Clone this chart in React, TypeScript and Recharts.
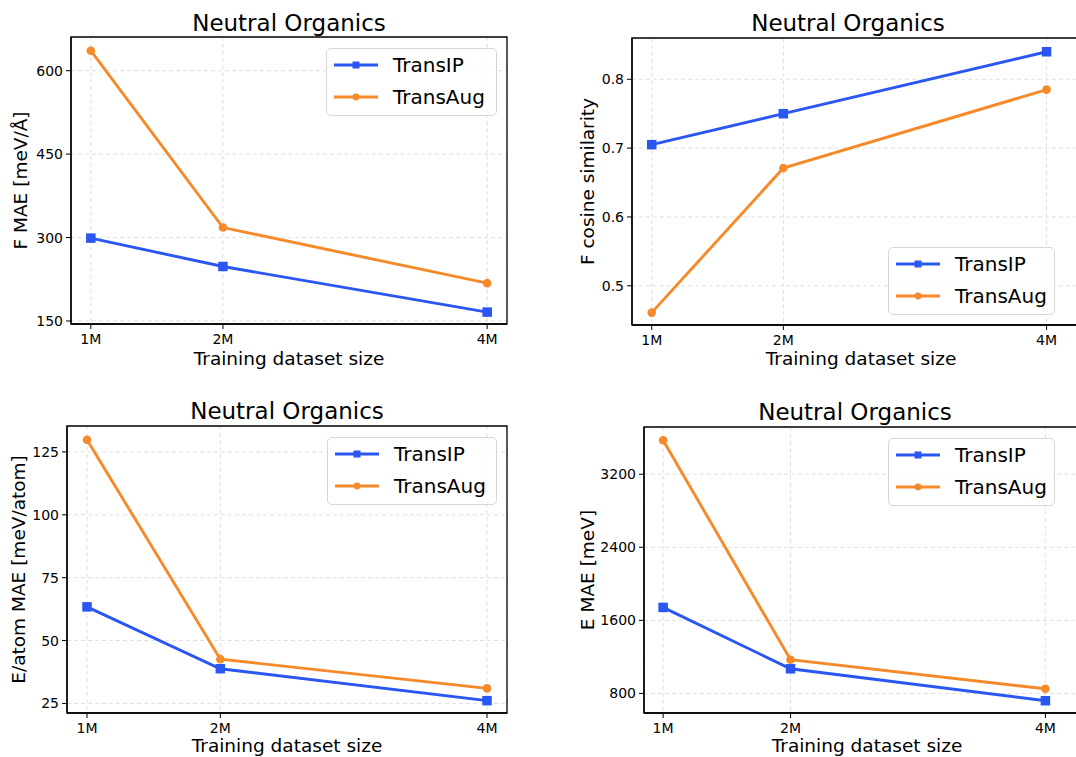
import { CartesianGrid, Legend, Line, LineChart, ReferenceArea, XAxis, YAxis } from "recharts"

const sizes = [1, 2, 4]
const sizeLabels = ["1M", "2M", "4M"]
const seriesOrder = ["transIP", "transAug"]

// F MAE [meV/Å]
const fMaeTransIP = [299, 248, 166]
const fMaeTransAug = [636, 318, 218]
const fMaeTicks = [150, 300, 450, 600]

// F cosine similarity
const fCosTransIP = [0.705, 0.75, 0.84]
const fCosTransAug = [0.461, 0.671, 0.785]
const fCosTicks = [0.5, 0.6, 0.7, 0.8]

// E/atom MAE [meV/atom]
const eAtomTransIP = [63.4, 38.8, 26.1]
const eAtomTransAug = [129.8, 42.6, 31.0]
const eAtomTicks = [25, 50, 75, 100, 125]

// E MAE [meV]
const eMaeTransIP = [1742, 1070, 720]
const eMaeTransAug = [3572, 1169, 851]
const eMaeTicks = [800, 1600, 2400, 3200]

const BLUE = "#2a56f2"
const ORANGE = "#f58a2a"
const FONT = "'DejaVu Sans', sans-serif"

function buildRows(ip: number[], aug: number[]) {
  return sizes.map((size, i) => ({ size, transIP: ip[i], transAug: aug[i] }))
}

const formatSize = (v: number) => sizeLabels[sizes.indexOf(v)] ?? ""

const SquareDot = (props: any) => {
  const { cx, cy, index } = props
  if (cx == null || cy == null) return null
  return <rect key={`sq-${index}`} x={cx - 4.75} y={cy - 4.75} width={9.5} height={9.5} fill={BLUE} />
}

function LegendBox({ payload, boxWidth }: any) {
  const items = [...(payload ?? [])].sort(
    (a: any, b: any) => seriesOrder.indexOf(a.dataKey) - seriesOrder.indexOf(b.dataKey)
  )
  return (
    <div
      style={{
        width: boxWidth,
        height: 68,
        boxSizing: "border-box",
        border: "1px solid #d6d6d6",
        borderRadius: 5,
        background: "rgba(255,255,255,0.8)",
        fontFamily: FONT,
      }}
    >
      {items.map((entry: any) => (
        <div key={entry.value} style={{ display: "flex", alignItems: "center", height: 32 }}>
          <svg width={44} height={12} style={{ marginLeft: 7 }}>
            <line x1={0} y1={6} x2={44} y2={6} stroke={entry.color} strokeWidth={2.8} />
            {entry.dataKey === "transIP" ? (
              <rect x={18.5} y={2.5} width={7} height={7} fill={entry.color} />
            ) : (
              <circle cx={22} cy={6} r={3.4} fill={entry.color} />
            )}
          </svg>
          <span style={{ marginLeft: 15, fontSize: 20, lineHeight: "32px", color: "#000" }}>{entry.value}</span>
        </div>
      ))}
    </div>
  )
}

const YTitle = ({ viewBox, text, cx }: any) => {
  const tx = viewBox.x + cx
  const ty = viewBox.y + viewBox.height / 2
  return (
    <text
      x={tx}
      y={ty}
      dy="0.36em"
      transform={`rotate(-90, ${tx}, ${ty})`}
      textAnchor="middle"
      fontSize={18.5}
      fontFamily={FONT}
      fill="#000"
    >
      {text}
    </text>
  )
}

type PanelProps = {
  left: number
  top: number
  width: number
  height: number
  margin: { top: number; right: number }
  yWidth: number
  xHeight: number
  xDomain: [number, number]
  yDomain: [number, number]
  yTicks: number[]
  yLabel: string
  yLabelX: number
  xLabelOffset: number
  ip: number[]
  aug: number[]
  title: { cx: number; top: number }
  legend: { left: number; top: number; width: number }
}

function Panel(p: PanelProps) {
  const rows = buildRows(p.ip, p.aug)
  const axisLine = { stroke: "#000", strokeWidth: 1.3 }
  return (
    <div style={{ position: "absolute", left: p.left, top: p.top, width: p.width, height: p.height }}>
      <div
        style={{
          position: "absolute",
          left: p.title.cx - 150,
          top: p.title.top,
          width: 300,
          textAlign: "center",
          fontFamily: FONT,
          fontSize: 23,
          lineHeight: "23px",
          color: "#000",
          zIndex: 2,
        }}
      >
        Neutral Organics
      </div>
      <LineChart
        width={p.width}
        height={p.height}
        data={rows}
        margin={{ top: p.margin.top, right: p.margin.right, bottom: 0, left: 0 }}
      >
        <CartesianGrid stroke="#dcdcdc" strokeDasharray="4 3" strokeWidth={0.9} />
        {/* plot frame (top and right spines) */}
        <ReferenceArea
          x1={p.xDomain[0]}
          x2={p.xDomain[1]}
          y1={p.yDomain[0]}
          y2={p.yDomain[1]}
          fill="none"
          stroke="#000"
          strokeWidth={1.3}
          ifOverflow="visible"
        />
        <XAxis
          dataKey="size"
          type="number"
          domain={p.xDomain}
          allowDataOverflow
          ticks={sizes}
          tickFormatter={formatSize}
          height={p.xHeight}
          axisLine={axisLine}
          tickLine={{ stroke: "#000" }}
          tickSize={5}
          tickMargin={5}
          tick={{ fontSize: 14, fill: "#000", fontFamily: FONT }}
          label={{
            value: "Training dataset size",
            position: "insideBottom",
            offset: p.xLabelOffset,
            fontSize: 18.5,
            fill: "#000",
            fontFamily: FONT,
          }}
        />
        <YAxis
          type="number"
          domain={p.yDomain}
          allowDataOverflow
          ticks={p.yTicks}
          width={p.yWidth}
          axisLine={axisLine}
          tickLine={{ stroke: "#000" }}
          tickSize={5}
          tickMargin={3}
          tick={{ fontSize: 14, fill: "#000", fontFamily: FONT }}
          label={{ content: (lp: any) => <YTitle {...lp} text={p.yLabel} cx={p.yLabelX} /> }}
        />
        <Legend
          layout="horizontal"
          verticalAlign="middle"
          wrapperStyle={{ left: p.legend.left, top: p.legend.top, width: "auto" }}
          content={(lp: any) => <LegendBox payload={lp.payload} boxWidth={p.legend.width} />}
        />
        <Line
          type="linear"
          dataKey="transIP"
          name="TransIP"
          stroke={BLUE}
          strokeWidth={2.9}
          dot={SquareDot}
          activeDot={false}
          isAnimationActive={false}
        />
        <Line
          type="linear"
          dataKey="transAug"
          name="TransAug"
          stroke={ORANGE}
          strokeWidth={2.9}
          dot={{ r: 4.3, fill: ORANGE, stroke: ORANGE, strokeWidth: 0 }}
          activeDot={false}
          isAnimationActive={false}
        />
      </LineChart>
    </div>
  )
}

export default function App() {
  return (
    <div
      style={{
        position: "absolute",
        left: 0,
        top: 0,
        width: 1076,
        height: 757,
        overflow: "hidden",
        background: "#fff",
      }}
    >
      <Panel
        left={0}
        top={0}
        width={530}
        height={380}
        margin={{ top: 37, right: 23 }}
        yWidth={71}
        xHeight={56}
        xDomain={[0.85, 4.15]}
        yDomain={[144.6, 660.6]}
        yTicks={fMaeTicks}
        yLabel="F MAE [meV/Å]"
        yLabelX={20}
        xLabelOffset={15}
        ip={fMaeTransIP}
        aug={fMaeTransAug}
        title={{ cx: 289, top: 12 }}
        legend={{ left: 326, top: 48, width: 171 }}
      />
      <Panel
        left={540}
        top={0}
        width={560}
        height={380}
        margin={{ top: 38, right: 10 }}
        yWidth={92}
        xHeight={55}
        xDomain={[0.85, 4.33]}
        yDomain={[0.443, 0.86]}
        yTicks={fCosTicks}
        yLabel="F cosine similarity"
        yLabelX={47}
        xLabelOffset={15}
        ip={fCosTransIP}
        aug={fCosTransAug}
        title={{ cx: 308, top: 12 }}
        legend={{ left: 348, top: 247, width: 167 }}
      />
      <Panel
        left={0}
        top={390}
        width={530}
        height={367}
        margin={{ top: 36, right: 23 }}
        yWidth={67}
        xHeight={44}
        xDomain={[0.85, 4.15]}
        yDomain={[21.2, 135.3]}
        yTicks={eAtomTicks}
        yLabel="E/atom MAE [meV/atom]"
        yLabelX={18}
        xLabelOffset={5}
        ip={eAtomTransIP}
        aug={eAtomTransAug}
        title={{ cx: 287, top: 10 }}
        legend={{ left: 327, top: 47, width: 170 }}
      />
      <Panel
        left={540}
        top={390}
        width={560}
        height={367}
        margin={{ top: 37, right: 10 }}
        yWidth={104}
        xHeight={44}
        xDomain={[0.85, 4.35]}
        yDomain={[586, 3717]}
        yTicks={eMaeTicks}
        yLabel="E MAE [meV]"
        yLabelX={47}
        xLabelOffset={5}
        ip={eMaeTransIP}
        aug={eMaeTransAug}
        title={{ cx: 315, top: 11 }}
        legend={{ left: 348, top: 48, width: 167 }}
      />
    </div>
  )
}
